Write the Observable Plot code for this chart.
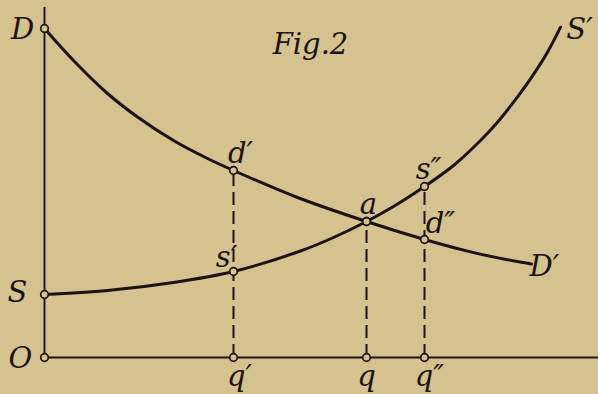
<!DOCTYPE html>
<html>
<head>
<meta charset="utf-8">
<script src="https://cdn.jsdelivr.net/npm/d3@7"></script>
<script src="https://cdn.jsdelivr.net/npm/@observablehq/plot@0.6"></script>
<style>
  html, body { margin: 0; padding: 0; background: #d4c28f; }
  #chart svg { display: block; }
</style>
</head>
<body>
<div id="chart"></div>
<script>
// Demand curve D–D' (quantity, price)
const demandQ = [0, 2.9, 6.3, 9.3, 12.9, 16.3, 18.9, 25.3, 32.2, 38.0, 42.3, 45.6, 48.7];
const demandP = [32.9, 29.7, 26.4, 24.05, 21.7, 19.9, 18.7, 16.0, 13.6, 11.8, 10.64, 9.91, 9.35];
// Supply curve S–S'
const supplyQ = [0, 6.3, 12.9, 18.9, 25.6, 28.9, 32.2, 34.9, 38.0, 40.9, 43.6, 45.3, 46.9, 48.6, 50.3, 51.6];
const supplyP = [6.3, 6.7, 7.5, 8.6, 10.65, 12.0, 13.6, 15.1, 17.1, 19.2, 21.7, 23.53, 25.53, 27.87, 30.53, 33.03];
// Quantities q', q, q''
const qNames = ["q′", "q", "q″"];
const qValues = [18.9, 32.2, 38.0];
// Marked prices on the curves
const demandAt = [18.7, 13.6, 11.8];   // d', a, d''
const supplyAt = [8.6, 13.6, 17.1];    // s', a, s''
const axisPrices = { D: 32.9, S: 6.3, O: 0 };
const axisTop = 35;
const axisRight = 56;
const title = "Fig.2";

const ink = "#1c130f";
const bg = "#d4c28f";
const font = "DejaVu Serif";
const fs = 29;

const demand = demandQ.map((q, i) => ({q, p: demandP[i]}));
const supply = supplyQ.map((q, i) => ({q, p: supplyP[i]}));
const verts = qValues.map((q, i) => ({q, top: Math.max(demandAt[i], supplyAt[i])}));

const points = [
  {q: 0, p: axisPrices.D}, {q: 0, p: axisPrices.S}, {q: 0, p: axisPrices.O},
  ...qValues.map(q => ({q, p: 0})),
  ...qValues.map((q, i) => ({q, p: demandAt[i]})),
  ...qValues.map((q, i) => ({q, p: supplyAt[i]}))
];

const lastD = demand[demand.length - 1];
const lastS = supply[supply.length - 1];

const txt = (data, o) => Plot.text(data, {
  x: "q", y: "p", text: "t", fontFamily: font, fontStyle: "italic", fontSize: fs,
  fill: ink, textAnchor: "middle", lineAnchor: "middle", ...o
});

const chart = Plot.plot({
  width: 598, height: 394,
  marginTop: 0, marginRight: 0, marginBottom: 0, marginLeft: 0,
  x: {domain: [-4.4, 55.4], axis: null},
  y: {domain: [-3.7, 35.7], axis: null},
  style: {background: bg, color: ink},
  marks: [
    Plot.ruleX([0], {y1: 0, y2: axisTop, stroke: ink, strokeWidth: 1.9}),
    Plot.ruleY([0], {x1: 0, x2: axisRight, stroke: ink, strokeWidth: 1.9}),
    Plot.ruleX(verts, {x: "q", y1: 0, y2: "top", stroke: ink, strokeWidth: 2, strokeDasharray: "13,6"}),
    Plot.line(demand, {x: "q", y: "p", curve: "catmull-rom", stroke: ink, strokeWidth: 3}),
    Plot.line(supply, {x: "q", y: "p", curve: "catmull-rom", stroke: ink, strokeWidth: 3}),
    Plot.dot(points, {x: "q", y: "p", r: 3.8, fill: bg, stroke: ink, strokeWidth: 1.7}),
    // axis labels
    txt([{q: 0, p: axisPrices.D, t: "D"}], {dx: -22, dy: 1}),
    txt([{q: 0, p: axisPrices.S, t: "S"}], {dx: -27, dy: -2}),
    txt([{q: 0, p: axisPrices.O, t: "O"}], {dx: -24, dy: 1}),
    // quantity labels
    txt([{q: qValues[0], p: 0, t: qNames[0]}], {dx: 6, dy: 19}),
    txt([{q: qValues[1], p: 0, t: qNames[1]}], {dx: 0, dy: 19}),
    txt([{q: qValues[2], p: 0, t: qNames[2]}], {dx: 5, dy: 19}),
    // point labels
    txt([{q: qValues[0], p: demandAt[0], t: "d′"}], {dx: 7, dy: -17}),
    txt([{q: qValues[0], p: supplyAt[0], t: "s′"}], {dx: -7, dy: -14}),
    txt([{q: qValues[1], p: demandAt[1], t: "a"}], {dx: 2, dy: -17}),
    txt([{q: qValues[2], p: supplyAt[2], t: "s″"}], {dx: 4, dy: -17}),
    txt([{q: qValues[2], p: demandAt[2], t: "d″"}], {dx: 16, dy: -16}),
    txt([{q: lastD.q, p: lastD.p, t: "D′"}], {dx: 13, dy: 3}),
    txt([{q: lastS.q, p: lastS.p, t: "S′"}], {dx: 19, dy: 3}),
    Plot.text([title], {frameAnchor: "top", dx: 11, dy: 44, fontFamily: font, fontStyle: "italic",
      fontSize: fs, fill: ink, lineAnchor: "middle"})
  ]
});
document.getElementById("chart").appendChild(chart);
</script>
</body>
</html>
